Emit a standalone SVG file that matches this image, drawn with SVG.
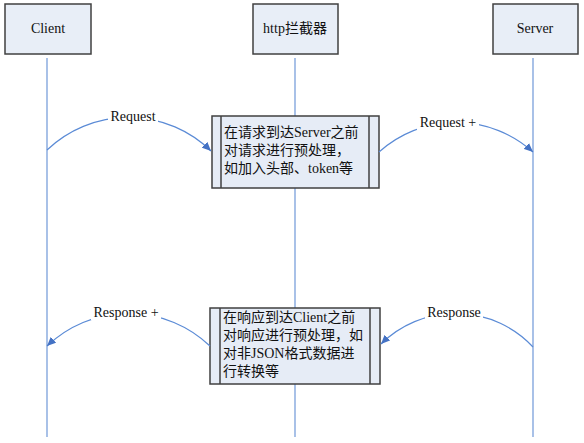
<svg xmlns="http://www.w3.org/2000/svg" width="584" height="443" viewBox="0 0 584 443">
<style>
.head{fill:#E8EEF7;stroke:#404040;stroke-width:1.5}
.proc{fill:#E6ECF6;stroke:#404040;stroke-width:1.5}
.life{stroke:#93B2E2;stroke-width:1.6;fill:none}
.msg{stroke:#5B8BD6;stroke-width:1.2;fill:none;marker-end:url(#ah)}
.lbl{fill:#fff;stroke:none}
text{font-family:"Liberation Serif","Noto Sans CJK SC",serif;font-size:14px;fill:#111}
.c{text-anchor:middle}
</style>
<defs>
<marker id="ah" markerUnits="userSpaceOnUse" markerWidth="10" markerHeight="8" refX="9" refY="4" orient="auto">
<path d="M0,0 L9,4 L0,8 Z" fill="#4472C4"/>
</marker>
</defs>
<g id="lifelines">
<line class="life" x1="47" y1="58" x2="47" y2="437"/>
<line class="life" x1="295" y1="58" x2="295" y2="437"/>
<line class="life" x1="533" y1="58" x2="533" y2="437"/>
</g>
<g id="client"><rect class="head" x="5" y="4" width="86" height="50"/><text class="c" x="48" y="33">Client</text></g>
<g id="interceptor"><rect class="head" x="253" y="4" width="85" height="50"/><text class="c" x="295" y="33">http拦截器</text></g>
<g id="server"><rect class="head" x="493" y="4" width="85" height="50"/><text class="c" x="535" y="33">Server</text></g>
<g id="pre">
<rect class="proc" x="212" y="116" width="167" height="72"/>
<line x1="221" y1="116" x2="221" y2="188" stroke="#404040" stroke-width="1.5"/>
<line x1="369" y1="116" x2="369" y2="188" stroke="#404040" stroke-width="1.5"/>
<text x="224" y="137">在请求到达Server之前</text>
<text x="224" y="155">对请求进行预处理，</text>
<text x="224" y="173">如加入头部、token等</text>
</g>
<g id="post">
<rect class="proc" x="210" y="308" width="170" height="76"/>
<line x1="220" y1="308" x2="220" y2="384" stroke="#404040" stroke-width="1.5"/>
<line x1="370" y1="308" x2="370" y2="384" stroke="#404040" stroke-width="1.5"/>
<text x="223" y="322">在响应到达Client之前</text>
<text x="223" y="340">对响应进行预处理，如</text>
<text x="223" y="358">对非JSON格式数据进</text>
<text x="223" y="376">行转换等</text>
</g>
<g id="connectors">
<path class="msg" d="M47,150 A118,118 0 0,1 211,151"/>
<rect class="lbl" x="108" y="108" width="50" height="16"/>
<text class="c" x="133" y="121">Request</text>
<path class="msg" d="M379,152 A115,115 0 0,1 533,152"/>
<rect class="lbl" x="417" y="114" width="62" height="16"/>
<text class="c" x="448" y="127">Request +</text>
<path class="msg" d="M210,346 A118,118 0 0,0 47,346"/>
<rect class="lbl" x="91" y="304" width="70" height="16"/>
<text class="c" x="126" y="317">Response +</text>
<path class="msg" d="M533,347 A106,106 0 0,0 381,344"/>
<rect class="lbl" x="425" y="304" width="58" height="16"/>
<text class="c" x="454" y="317">Response</text>
</g>
</svg>
